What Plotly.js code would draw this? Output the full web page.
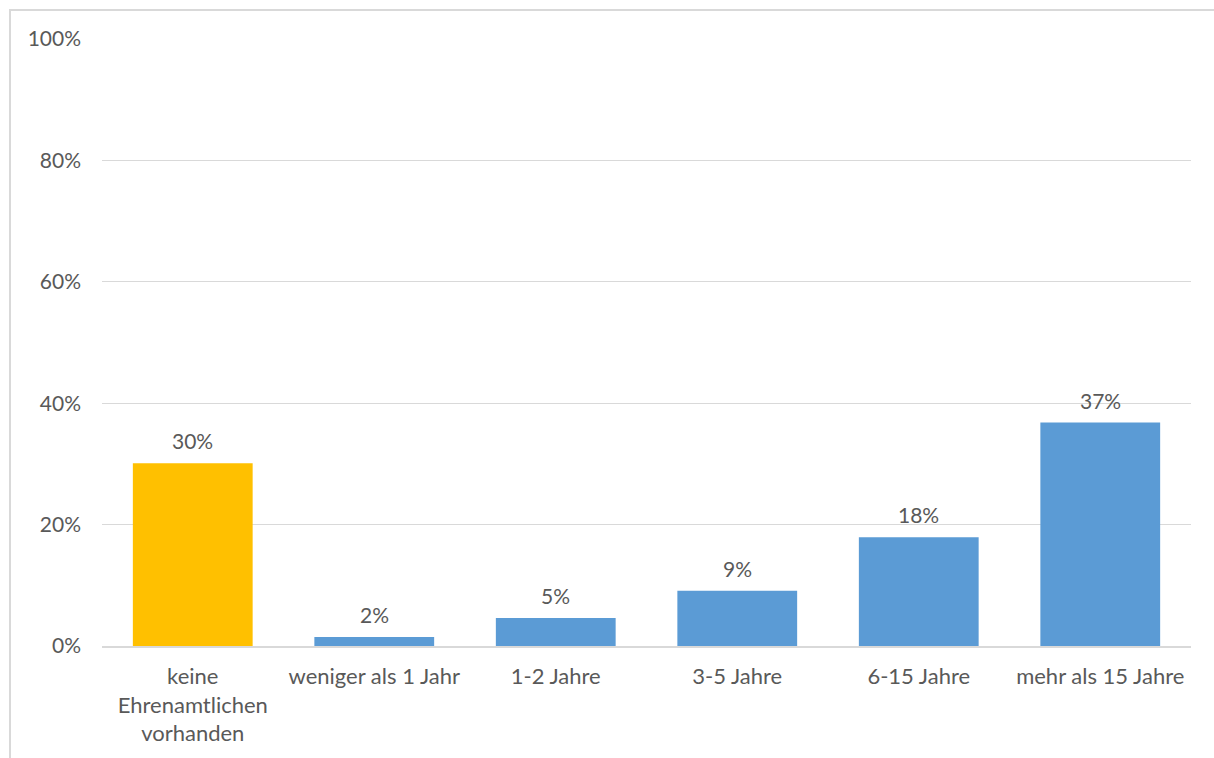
<!DOCTYPE html>
<html>
<head>
<meta charset="utf-8">
<script src="https://cdn.plot.ly/plotly-3.0.1.min.js"></script>
<style>
html,body{margin:0;padding:0;background:#fff;}
#frame{position:absolute;left:9px;top:9px;width:1220px;height:760px;border-left:2px solid #d9d9d9;border-top:2px solid #d9d9d9;box-sizing:border-box;}
#chart{position:absolute;left:0;top:0;width:1214px;height:758px;}
</style>
</head>
<body>
<div id="frame"></div>
<div id="chart"></div>
<script>
const categories = ["keine<br>Ehrenamtlichen<br>vorhanden", "weniger als 1 Jahr", "1-2 Jahre", "3-5 Jahre", "6-15 Jahre", "mehr als 15 Jahre"];
const values = [30.1, 1.5, 4.6, 9.1, 17.9, 36.8];
const labels = ["30%", "2%", "5%", "9%", "18%", "37%"];
const barColors = ["#FFC000", "#5B9BD5", "#5B9BD5", "#5B9BD5", "#5B9BD5", "#5B9BD5"];
const tickVals = [0, 20, 40, 60, 80, 100];
const tickText = ["0%", "20%", "40%", "60%", "80%", "100%"];

const fontFam = "Lato, 'Open Sans', sans-serif";
const txtColor = "#595959";
const fs = 21;

const trace = {
  type: "bar",
  x: categories,
  y: values,
  marker: {color: barColors},
  width: 0.66,
  hoverinfo: "none"
};

const annotations = categories.map((c, i) => ({
  x: c, y: values[i], xref: "x", yref: "y",
  text: labels[i], showarrow: false,
  yanchor: "bottom", yshift: 8,
  font: {family: fontFam, size: fs, color: txtColor}
}));

const layout = {
  width: 1214, height: 758,
  margin: {l: 102, r: 23, t: 39, b: 112},
  paper_bgcolor: "rgba(0,0,0,0)",
  plot_bgcolor: "rgba(0,0,0,0)",
  showlegend: false,
  font: {family: fontFam, size: fs, color: txtColor},
  xaxis: {
    type: "category",
    showgrid: false,
    showline: true, linecolor: "#d9d9d9", linewidth: 1.5,
    ticks: "", tickfont: {family: fontFam, size: 22, color: txtColor},
    ticklabelstandoff: 10,
    fixedrange: true
  },
  yaxis: {
    range: [0, 100],
    tickvals: tickVals, ticktext: tickText,
    showgrid: true, gridcolor: "#d9d9d9", gridwidth: 1,
    zeroline: false, showline: false,
    ticks: "", ticklabelstandoff: 20,
    tickfont: {family: fontFam, size: fs, color: txtColor},
    fixedrange: true
  },
  annotations: annotations
};

Plotly.newPlot("chart", [trace], layout, {displayModeBar: false, staticPlot: true});
</script>
</body>
</html>
